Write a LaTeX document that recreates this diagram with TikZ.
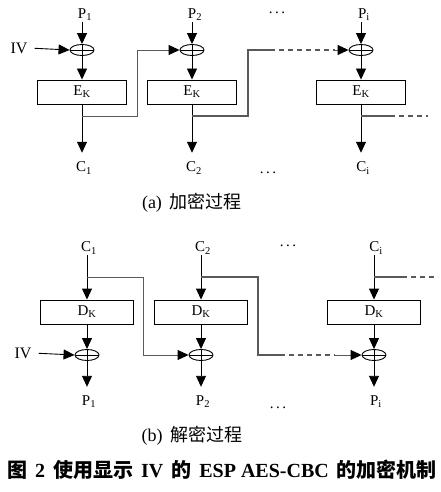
\documentclass[tikz,border=0pt]{standalone}
\usepackage{fontspec}
\setmainfont{Liberation Serif}
\newfontfamily\cjk{Noto Sans CJK SC}
\usepackage{tikz}
\usetikzlibrary{arrows.meta, positioning, shapes.geometric}

\newcommand{\zh}[1]{{\cjk #1}}

\begin{document}
\begin{tikzpicture}[
    x=1pt, y=-1pt,
    lbl/.style={inner sep=1pt, font=\fontsize{15}{17}\selectfont},
    ivlbl/.style={inner sep=1pt, font=\fontsize{16}{18}\selectfont},
    box/.style={rectangle, draw, line width=0.9pt, minimum height=24pt, inner sep=0pt, font=\fontsize{15}{17}\selectfont},
    xor/.style={ellipse, draw, line width=0.9pt, minimum width=24pt, minimum height=11pt, inner sep=0pt,
        path picture={\draw[line width=0.9pt] (path picture bounding box.west) -- (path picture bounding box.east);
                      \draw[line width=0.9pt] (path picture bounding box.north) -- (path picture bounding box.south);}},
    arr/.style={line width=0.9pt, -{Triangle[length=11pt, width=10pt, color=black]}},
    branch/.style={line width=1.1pt, draw=black!65},
    dashline/.style={branch, dash pattern=on 5pt off 4pt},
    captext/.style={inner sep=0pt, font=\fontsize{18}{21}\selectfont},
]
    \useasboundingbox (0,0) rectangle (441,492);

    % (a) encryption
    \node[lbl] (p1) at (85,15) {P\textsubscript{1}};
    \node[lbl] (p2) at (195,15) {P\textsubscript{2}};
    \node[lbl] (pi) at (364,15) {P\textsubscript{i}};
    \node[ivlbl] (iva) at (19,48) {IV};
    \node[xor] (x1) at (82,50) {};
    \node[xor] (x2) at (192,50) {};
    \node[xor] (x3) at (361,50) {};
    \node[box, minimum width=89pt] (e1) at (82,92) {E\textsubscript{K}};
    \node[box, minimum width=89pt] (e2) at (192,92) {E\textsubscript{K}};
    \node[box, minimum width=89pt] (e3) at (361,92) {E\textsubscript{K}};
    \node[lbl] (c1) at (84,168) {C\textsubscript{1}};
    \node[lbl] (c2) at (194,168) {C\textsubscript{2}};
    \node[lbl] (ci) at (363,168) {C\textsubscript{i}};
    \node[lbl] (dotsa1) at (277,13) {.\hspace{2.5pt}.\hspace{2.5pt}.};
    \node[lbl] (dotsa2) at (268,173) {.\hspace{2.5pt}.\hspace{2.5pt}.};
    \node[captext] (capa) at (192,203) {(a)\hspace{8pt}\zh{加密过程}};
    \coordinate (ba1) at (82,116);
    \coordinate (ba2) at (192,116);
    \coordinate (ba3) at (361,116);
    \coordinate (ka1) at (137,50);
    \coordinate (ka2) at (248,50);
    \coordinate (da1) at (270,50);
    \coordinate (da2) at (335,50);
    \coordinate (da3) at (390,116);
    \coordinate (da4) at (428,116);

    \draw[arr] (p1.south -| x1) -- (x1.north);
    \draw[arr] (p2.south -| x2) -- (x2.north);
    \draw[arr] (pi.south -| x3) -- (x3.north);
    \draw[arr, shorten <=6pt] (iva.east) -- (x1.west);
    \draw[arr] (x1.south) -- (e1.north);
    \draw[arr] (x2.south) -- (e2.north);
    \draw[arr] (x3.south) -- (e3.north);
    \draw[arr, shorten >=8pt] (e1.south) -- (c1.north -| e1);
    \draw[arr, shorten >=8pt] (e2.south) -- (c2.north -| e2);
    \draw[arr, shorten >=8pt] (e3.south) -- (ci.north -| e3);
    \draw[branch, arr] (ba1) -| (ka1) -- (x2.west);
    \draw[branch] (ba2) -| (ka2) -- (da1);
    \draw[dashline] (da1) -- (da2);
    \draw[branch, arr] (da2) -- (x3.west);
    \draw[branch] (ba3) -- (da3);
    \draw[dashline] (da3) -- (da4);

    % (b) decryption
    \node[lbl] (cb1) at (89,248) {C\textsubscript{1}};
    \node[lbl] (cb2) at (203,248) {C\textsubscript{2}};
    \node[lbl] (cbi) at (376,248) {C\textsubscript{i}};
    \node[box, minimum width=93pt] (d1) at (87,312) {D\textsubscript{K}};
    \node[box, minimum width=93pt] (d2) at (201,312) {D\textsubscript{K}};
    \node[box, minimum width=93pt] (d3) at (374,312) {D\textsubscript{K}};
    \node[ivlbl] (ivb) at (23,353) {IV};
    \node[xor] (y1) at (87,355) {};
    \node[xor] (y2) at (201,355) {};
    \node[xor] (y3) at (374,355) {};
    \node[lbl] (q1) at (89,402) {P\textsubscript{1}};
    \node[lbl] (q2) at (203,402) {P\textsubscript{2}};
    \node[lbl] (qi) at (376,402) {P\textsubscript{i}};
    \node[lbl] (dotsb1) at (288,246) {.\hspace{2.5pt}.\hspace{2.5pt}.};
    \node[lbl] (dotsb2) at (278,408) {.\hspace{2.5pt}.\hspace{2.5pt}.};
    \node[captext] (capb) at (192,436) {(b)\hspace{8pt}\zh{解密过程}};
    \coordinate (bb1) at (87,277);
    \coordinate (bb2) at (201,277);
    \coordinate (bb3) at (374,277);
    \coordinate (kb1) at (143,355);
    \coordinate (kb2) at (258,355);
    \coordinate (db1) at (280,355);
    \coordinate (db2) at (335,355);
    \coordinate (db3) at (402,277);
    \coordinate (db4) at (438,277);

    \draw[arr] (cb1.south -| d1) -- (d1.north);
    \draw[arr] (cb2.south -| d2) -- (d2.north);
    \draw[arr] (cbi.south -| d3) -- (d3.north);
    \draw[arr] (d1.south) -- (y1.north);
    \draw[arr] (d2.south) -- (y2.north);
    \draw[arr] (d3.south) -- (y3.north);
    \draw[arr, shorten <=6pt] (ivb.east) -- (y1.west);
    \draw[arr, shorten >=8pt] (y1.south) -- (q1.north -| y1);
    \draw[arr, shorten >=8pt] (y2.south) -- (q2.north -| y2);
    \draw[arr, shorten >=8pt] (y3.south) -- (qi.north -| y3);
    \draw[branch, arr] (bb1) -| (kb1) -- (y2.west);
    \draw[branch] (bb2) -| (kb2) -- (db1);
    \draw[dashline] (db1) -- (db2);
    \draw[branch, arr] (db2) -- (y3.west);
    \draw[branch] (bb3) -- (db3);
    \draw[dashline] (db3) -- (db4);

    % caption
    \node[inner sep=0pt, font=\bfseries\fontsize{20}{24}\selectfont] (title) at (222,470)
        {\zh{图}\hspace{8pt}2\hspace{8pt}\zh{使用显示}\hspace{8pt}IV\hspace{8pt}\zh{的}\hspace{8pt}ESP AES-CBC\hspace{8pt}\zh{的加密机制}};
\end{tikzpicture}
\end{document}
